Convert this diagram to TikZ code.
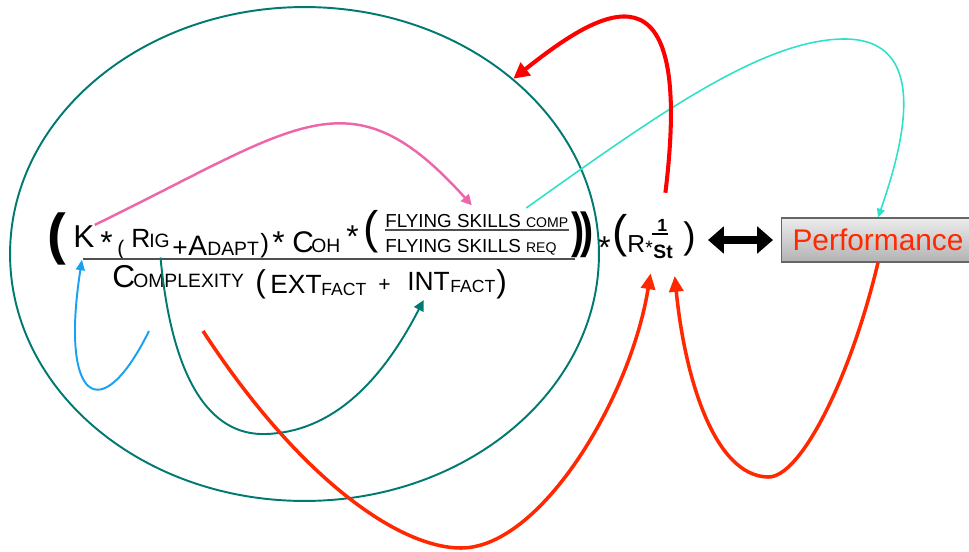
\documentclass[tikz,border=0pt]{standalone}
\usepackage{fontspec}
\setmainfont{Liberation Sans}
\usetikzlibrary{shapes.geometric,arrows.meta}

\definecolor{tealc}{RGB}{0,122,112}
\definecolor{pinkc}{RGB}{238,102,170}
\definecolor{cyanc}{RGB}{48,224,200}
\definecolor{redc}{RGB}{255,0,0}
\definecolor{orc}{RGB}{255,40,0}
\definecolor{bluec}{RGB}{24,160,245}
\definecolor{barc}{RGB}{80,80,80}

\newcommand{\fsz}[1]{\fontsize{#1}{#1}\selectfont}

\tikzset{
  sym/.style={inner sep=0pt, anchor=base west},
  bar/.style={draw=barc, line width=0.8pt},
  grpring/.style={ellipse, draw=tealc, line width=1.1pt, inner sep=0pt,
    minimum width=11.78cm, minimum height=9.88cm},
  perfbox/.style={anchor=west, draw=black!60, line width=0.6pt,
    top color=gray!15, bottom color=gray!60, text=orc, font=\fsz{17},
    inner xsep=0.22cm, minimum height=0.88cm},
  dbl/.style={{Triangle[width=15pt,length=9pt]}-{Triangle[width=15pt,length=9pt]},
    line width=4pt, shorten <=0.24cm, shorten >=0.16cm},
  pinkarr/.style={pinkc, line width=1.4pt, -{Triangle[width=6pt,length=6pt]}},
  cyanarr/.style={cyanc, line width=0.9pt, -{Triangle[width=4.5pt,length=5pt]}},
  redarr/.style={redc, line width=2.3pt, -{Triangle[width=9pt,length=9pt]}},
  orarr/.style={orc, line width=2pt, -{Triangle[width=8pt,length=9pt]}},
  bluearr/.style={bluec, line width=1.1pt, -{Triangle[width=5pt,length=6pt]}},
  tealarr/.style={tealc, line width=1.1pt, -{Triangle[width=6pt,length=6pt]}}
}

\begin{document}
\begin{tikzpicture}[x=0.02cm, y=-0.02cm]
  \useasboundingbox (0,0) rectangle (969,551);

  % Ring round the whole fraction
  \node[grpring] (grp) at (304.5,254) {};

  % Numerator
  \node[sym, font=\bfseries\fsz{32}] (lpar) at (47,253) {(};
  \node[sym, font=\fsz{18}] (k) at (73,247) {K};
  \node[sym, font=\fsz{18}] (ast1) at (100,253) {*};
  \node[sym, font=\fsz{12}] (lpar1) at (117,255) {(};
  \node[sym, font=\fsz{15}] (rr) at (131,247) {R};
  \node[sym, font=\fsz{11}] (rsub) at (149,247) {IG};
  \node[sym, font=\fsz{15}] (plus1) at (172,256) {+};
  \node[sym, font=\fsz{16}] (aa) at (188,255) {A};
  \node[sym, font=\fsz{11}] (asub) at (207,255) {DAPT};
  \node[sym, font=\fsz{15}] (rpar1) at (260,252) {)};
  \node[sym, font=\fsz{18}] (ast2) at (272,253) {*};
  \node[sym, font=\fsz{17}] (cc) at (292,252) {C};
  \node[sym, font=\fsz{11}] (csub) at (311,252) {OH};
  \node[sym, font=\fsz{18}] (ast3) at (346,247) {*};
  \node[sym, font=\fsz{26}] (lpar2) at (363,243) {(};
  \node[sym, font=\fsz{10.7}, inner ysep=1.5pt] (skills) at (385,227) {FLYING SKILLS {\fsz{8}COMP}};
  \node[sym, font=\fsz{10.7}] (skillsreq) at (385,252) {FLYING SKILLS {\fsz{8}REQ}};
  \draw[bar] (skills.south west) -- (skills.south east);
  \node[sym, font=\bfseries\fsz{28}, xscale=0.8] (rpar2) at (571,247) {)\kern-0.1em)};

  % Main fraction bar
  \coordinate (barl) at (83,259);
  \coordinate (barr) at (575,259);
  \draw[bar] (barl) -- (barr);

  % Denominator
  \node[sym, font=\fsz{18}] (cpx) at (112,287) {C};
  \node[sym, font=\fsz{11}] (cpxsub) at (133,287) {OMPLEXITY};
  \node[sym, font=\fsz{18}] (lpar3) at (255,292) {(};
  \node[sym, font=\fsz{15}] (ext) at (270,293) {EXT};
  \node[sym, font=\fsz{10}] (extsub) at (321,295) {FACT};
  \node[sym, font=\fsz{12}] (plus2) at (378,291) {+};
  \node[sym, font=\fsz{15}] (intl) at (407,290) {INT};
  \node[sym, font=\fsz{10}] (intsub) at (450,292) {FACT};
  \node[sym, font=\fsz{18}] (rpar3) at (496,292) {)};

  % Right factor
  \node[sym, font=\fsz{18}] (ast4) at (598,258) {*};
  \node[sym, font=\fsz{26}] (lpar4) at (612,247) {(};
  \node[sym, font=\fsz{14}] (rst) at (627,252) {R};
  \node[sym, font=\fsz{11}] (ast5) at (645,254) {*};
  \node[sym, font=\bfseries\fsz{10}] (one) at (657,231) {1};
  \node[sym, font=\bfseries\fsz{11}] (st) at (653,258) {St};
  \coordinate (onel) at (652,234);
  \coordinate (oner) at (668,234);
  \draw[line width=0.6pt] (onel) -- (oner);
  \node[sym, font=\fsz{21}] (rpar4) at (683,248) {)};

  % Performance box and two-way link
  \node[perfbox] (perf) at (781,240) {Performance};
  \draw[dbl] (perf.west -| rpar4.east) -- (perf.west);

  % Free feet of the lower loops
  \coordinate (bluefoot) at (149,331);
  \coordinate (redfoot) at (203,331);

  % Loops
  \draw[bluearr, shorten >=0.25cm] (bluefoot) .. controls (100,430) and (60,400) .. (k.south);
  \draw[tealarr, shorten <=0.2cm, shorten >=0.22cm] (rsub.south) .. controls (172,380) and (210,436) .. (266,434)
    .. controls (330,432) and (380,385) .. (intl.south);
  \draw[pinkarr, shorten >=0.15cm] (k.north east) .. controls (300,125) and (350,70) .. (skills.north);
  \draw[cyanarr, shorten <=0.1cm] (skills.12) .. controls (650,120) and (760,40) .. (843,39)
    .. controls (930,38) and (905,140) .. (perf.north);
  \draw[redarr, shorten <=0.52cm] (one.north) .. controls (695,-50) and (600,10) .. (grp.north east);
  \draw[orarr, shorten >=0.3cm] (redfoot) .. controls (300,480) and (400,548) .. (461,548)
    .. controls (540,548) and (630,400) .. (st.south west);
  \draw[orarr, shorten >=0.35cm] (perf.south) .. controls (850,380) and (800,478) .. (768,477)
    .. controls (715,476) and (685,380) .. (st.south east);
\end{tikzpicture}
\end{document}
